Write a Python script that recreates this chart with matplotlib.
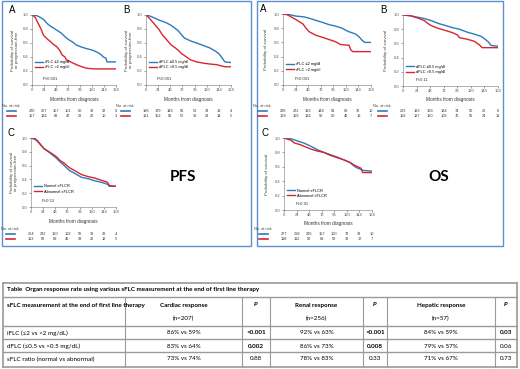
import matplotlib
matplotlib.use("Agg")
import matplotlib.pyplot as plt
import matplotlib.transforms as mtransforms
from matplotlib.patches import Rectangle
from matplotlib.lines import Line2D

W, H = 520, 369
BLUE = "#2a7bbb"
RED = "#d8262c"
BOX = "#5e8fd0"
GRID = "#9a9a9a"

MONTH_TICKS = [0, 24, 48, 72, 96, 120, 144, 168]
SURV_TICKS = [0.0, 0.2, 0.4, 0.6, 0.8, 1.0]

# ---- PFS panels ----
pfs_a_blue_t = [0, 10, 18, 24, 30, 37, 44, 50, 57, 63, 69, 75, 80, 89, 100, 109, 120, 130, 137, 143, 148, 150, 168]
pfs_a_blue_s = [1.0, 0.99, 0.96, 0.93, 0.88, 0.84, 0.81, 0.78, 0.75, 0.71, 0.67, 0.64, 0.62, 0.57, 0.54, 0.52, 0.50, 0.47, 0.44, 0.40, 0.38, 0.33, 0.33]
pfs_a_red_t = [0, 6, 11, 18, 23, 30, 37, 43, 49, 55, 60, 66, 69, 80, 89, 100, 109, 123, 168]
pfs_a_red_s = [1.0, 0.97, 0.90, 0.80, 0.71, 0.66, 0.62, 0.58, 0.55, 0.50, 0.43, 0.40, 0.36, 0.32, 0.29, 0.26, 0.24, 0.23, 0.23]

pfs_b_blue_t = [0, 10, 25, 40, 50, 63, 70, 76, 88, 100, 115, 126, 138, 145, 151, 156, 168]
pfs_b_blue_s = [1.0, 0.98, 0.93, 0.89, 0.85, 0.78, 0.72, 0.67, 0.63, 0.60, 0.56, 0.53, 0.48, 0.44, 0.38, 0.33, 0.32]
pfs_b_red_t = [0, 6, 13, 25, 32, 38, 50, 58, 63, 70, 76, 88, 100, 115, 126, 140, 150, 157, 168]
pfs_b_red_s = [1.0, 0.96, 0.90, 0.80, 0.72, 0.67, 0.57, 0.53, 0.50, 0.45, 0.42, 0.36, 0.33, 0.31, 0.30, 0.29, 0.27, 0.26, 0.26]

pfs_c_blue_t = [0, 8, 13, 25, 38, 50, 58, 63, 70, 76, 88, 100, 113, 126, 138, 151, 155, 168]
pfs_c_blue_s = [1.0, 0.98, 0.95, 0.85, 0.78, 0.71, 0.65, 0.62, 0.57, 0.53, 0.48, 0.43, 0.41, 0.38, 0.36, 0.33, 0.30, 0.30]
pfs_c_red_t = [0, 8, 13, 25, 38, 50, 58, 63, 76, 88, 100, 113, 126, 138, 151, 155, 168]
pfs_c_red_s = [1.0, 0.99, 0.96, 0.85, 0.79, 0.73, 0.67, 0.65, 0.57, 0.52, 0.47, 0.44, 0.42, 0.39, 0.36, 0.31, 0.30]

# ---- OS panels ----
os_a_blue_t = [0, 13, 25, 40, 50, 63, 76, 88, 100, 113, 120, 126, 138, 145, 151, 156, 168]
os_a_blue_s = [1.0, 0.99, 0.97, 0.96, 0.94, 0.91, 0.88, 0.85, 0.83, 0.80, 0.77, 0.75, 0.72, 0.68, 0.63, 0.60, 0.60]
os_a_red_t = [0, 8, 13, 25, 38, 44, 50, 63, 76, 88, 100, 110, 126, 129, 133, 168]
os_a_red_s = [1.0, 0.99, 0.97, 0.92, 0.86, 0.80, 0.75, 0.70, 0.67, 0.64, 0.61, 0.57, 0.56, 0.50, 0.47, 0.47]

os_b_blue_t = [0, 13, 25, 38, 50, 63, 76, 88, 100, 113, 126, 138, 145, 151, 156, 168]
os_b_blue_s = [1.0, 0.99, 0.97, 0.95, 0.92, 0.88, 0.85, 0.82, 0.80, 0.76, 0.73, 0.70, 0.66, 0.62, 0.57, 0.56]
os_b_red_t = [0, 13, 25, 38, 44, 50, 63, 76, 88, 96, 100, 113, 126, 135, 140, 168]
os_b_red_s = [1.0, 0.99, 0.96, 0.92, 0.88, 0.85, 0.81, 0.78, 0.75, 0.72, 0.68, 0.66, 0.63, 0.58, 0.54, 0.54]

os_c_blue_t = [0, 13, 25, 38, 50, 63, 76, 88, 100, 113, 126, 132, 138, 145, 151, 168]
os_c_blue_s = [1.0, 0.99, 0.96, 0.93, 0.89, 0.84, 0.80, 0.77, 0.74, 0.70, 0.66, 0.62, 0.59, 0.57, 0.55, 0.54]
os_c_red_t = [0, 13, 20, 30, 40, 50, 63, 76, 88, 100, 113, 126, 135, 147, 150, 168]
os_c_red_s = [1.0, 0.97, 0.93, 0.91, 0.88, 0.85, 0.82, 0.80, 0.76, 0.73, 0.70, 0.66, 0.62, 0.58, 0.52, 0.52]

# numbers at risk
pfs_a_risk = ([220, 207, 157, 101, 60, 39, 22, 6], [157, 124, 88, 47, 29, 22, 10, 3])
pfs_b_risk = ([196, 179, 146, 91, 53, 33, 18, 4], [181, 152, 91, 57, 36, 28, 14, 5])
pfs_c_risk = ([264, 232, 160, 102, 56, 39, 20, 4], [113, 99, 69, 46, 33, 22, 12, 5])
os_a_risk = ([228, 222, 193, 144, 91, 62, 32, 10], [168, 159, 124, 90, 60, 45, 18, 7])
os_b_risk = ([203, 193, 166, 124, 74, 50, 26, 8], [192, 187, 150, 109, 76, 56, 24, 11])
os_c_risk = ([277, 268, 226, 167, 100, 73, 33, 10], [118, 112, 90, 69, 50, 33, 17, 7])

iflc_labels = ["iFLC \u22642 mg/dl", "iFLC >2 mg/dl"]
dflc_labels = ["dFLC \u22640.5 mg/dl", "dFLC >0.5 mg/dl"]
ratio_labels = ["Normal sFLCR", "Abnormal sFLCR"]

# table
table_title = "Table  Organ response rate using various sFLC measurement at the end of first line therapy"
table_rows = ["iFLC (\u22642 vs >2 mg/dL)", "dFLC (\u22640.5 vs >0.5 mg/dL)", "sFLC ratio (normal vs abnormal)"]
cardiac = ["86% vs 59%", "83% vs 64%", "73% vs 74%"]
cardiac_p = ["<0.001", "0.002", "0.88"]
renal = ["92% vs 63%", "86% vs 73%", "78% vs 83%"]
renal_p = ["<0.001", "0.008", "0.33"]
hepatic = ["84% vs 59%", "79% vs 57%", "71% vs 67%"]
hepatic_p = ["0.03", "0.06", "0.73"]
p_bold = [[True, True, True], [True, True, False], [False, False, False]]

plt.rcParams["font.family"] = ["Liberation Sans", "DejaVu Sans"]

fig = plt.figure(figsize=(W / 100, H / 100), dpi=100)


def fx(px):
    return px / W


def fy(py):
    return 1 - py / H


def km_panel(letter, box, curves, labels, risk, pval, ylabel, rows_y, leg_top):
    x0, y0, x1, y1 = box
    ax = fig.add_axes([fx(x0), fy(y1), fx(x1 - x0), (y1 - y0) / H])
    for (t, s), col, lab in zip(curves, (BLUE, RED), labels):
        ax.plot(t, s, color=col, lw=1.0, label=lab)
    ax.set_xlim(0, 168)
    ax.set_ylim(0, 1.0)
    ax.set_xticks(MONTH_TICKS)
    ax.set_yticks(SURV_TICKS)
    ax.set_yticklabels([f"{v:.1f}" for v in SURV_TICKS])
    ax.tick_params(labelsize=3, length=1.5, width=0.4, pad=1, colors="#555555")
    for sp in ("top", "right"):
        ax.spines[sp].set_visible(False)
    for sp in ("left", "bottom"):
        ax.spines[sp].set_linewidth(0.4)
        ax.spines[sp].set_color("#777777")
    ax.patch.set_alpha(0)
    ax.legend(loc="upper left", bbox_to_anchor=(0.02, leg_top), fontsize=2.8,
              frameon=False, handlelength=2.0, handletextpad=0.5, labelspacing=0.3,
              borderaxespad=0)
    ax.text(0.13, 0.07, pval, transform=ax.transAxes, fontsize=3, color="#333333")

    fig.text(fx(x0 - 23), fy(y0 - 5), letter, fontsize=7, ha="left", va="center")
    fig.text(fx(x0 - 17), fy((y0 + y1) / 2), ylabel, fontsize=3.2, rotation=90,
             ha="center", va="center", color="#444444", linespacing=1.1)
    fig.text(fx((x0 + x1) / 2), fy(y1 + 14), "Months from diagnosis", fontsize=3.4,
             ha="center", va="center", color="#333333")

    ry0, ry1, ry2 = rows_y
    fig.text(fx(x0 - 30), fy(ry0), "No. at risk", fontsize=2.8, ha="left", va="center",
             color="#444444")
    trans = mtransforms.blended_transform_factory(ax.transData, fig.transFigure)
    for counts, col, ry in zip(risk, (BLUE, RED), (ry1, ry2)):
        fig.add_artist(Line2D([fx(x0 - 25), fx(x0 - 16)], [fy(ry), fy(ry)],
                              color=col, lw=1.2, transform=fig.transFigure))
        for m, c in zip(MONTH_TICKS, counts):
            fig.text(m, fy(ry), str(c), transform=trans, fontsize=2.8,
                     ha="center", va="center", color="#333333")
    return ax


pfs_lab = "Probability of survival\nor progression-free"
os_lab = "Probability of survival"

# boxes
fig.add_artist(Rectangle((fx(2), fy(246)), fx(249), (245) / H, fill=False,
                         edgecolor=BOX, lw=1.0, transform=fig.transFigure))
fig.add_artist(Rectangle((fx(257), fy(246)), fx(246), (245) / H, fill=False,
                         edgecolor=BOX, lw=1.0, transform=fig.transFigure))

km_panel("A", (32, 15, 116, 85), [(pfs_a_blue_t, pfs_a_blue_s), (pfs_a_red_t, pfs_a_red_s)],
         iflc_labels, pfs_a_risk, "P<0.001", pfs_lab, (106, 111, 116), 0.38)
km_panel("B", (146, 15, 231, 85), [(pfs_b_blue_t, pfs_b_blue_s), (pfs_b_red_t, pfs_b_red_s)],
         dflc_labels, pfs_b_risk, "P<0.001", pfs_lab, (106, 111, 116), 0.38)
km_panel("C", (31, 138, 116, 207), [(pfs_c_blue_t, pfs_c_blue_s), (pfs_c_red_t, pfs_c_red_s)],
         ratio_labels, pfs_c_risk, "P=0.53", pfs_lab, (229, 234, 239), 0.35)
km_panel("A", (283, 14, 371, 85), [(os_a_blue_t, os_a_blue_s), (os_a_red_t, os_a_red_s)],
         iflc_labels, os_a_risk, "P<0.001", os_lab, (106, 111, 116), 0.34)
km_panel("B", (403, 15, 498, 86), [(os_b_blue_t, os_b_blue_s), (os_b_red_t, os_b_red_s)],
         dflc_labels, os_b_risk, "P=0.11", os_lab, (106, 111, 116), 0.32)
km_panel("C", (284, 138, 372, 210), [(os_c_blue_t, os_c_blue_s), (os_c_red_t, os_c_red_s)],
         ratio_labels, os_c_risk, "P=0.91", os_lab, (229, 234, 239), 0.32)

fig.text(fx(183), fy(177), "PFS", fontsize=11, fontweight="bold", family="Lato",
         ha="center", va="center")
fig.text(fx(439), fy(177), "OS", fontsize=11, fontweight="bold", family="Lato",
         ha="center", va="center")

# ---- table ----
tx0, tx1 = 3, 517
ty_top, ty_head, ty_bot = 283, 297, 367
row_lines = [326, 339, 352]
col_lines = [125, 242, 270, 363, 387, 495]


def hline(y, x0=tx0, x1=tx1, lw=1.0):
    fig.add_artist(Line2D([fx(x0), fx(x1)], [fy(y), fy(y)], color=GRID, lw=lw,
                          transform=fig.transFigure))


def vline(x, y0, y1, lw=0.8):
    fig.add_artist(Line2D([fx(x), fx(x)], [fy(y0), fy(y1)], color=GRID, lw=lw,
                          transform=fig.transFigure))


hline(ty_top, lw=1.2)
hline(ty_head)
for y in row_lines:
    hline(y)
hline(ty_bot, lw=1.2)
vline(tx0, ty_top, ty_bot, 1.2)
vline(tx1, ty_top, ty_bot, 1.2)
for x in col_lines:
    vline(x, ty_head, ty_bot)

tfont = dict(family="Lato", fontsize=4.5, va="center")
fig.text(fx(7), fy(290), table_title, fontweight="bold", ha="left", **tfont)

centers = [(col_lines[i] + col_lines[i + 1]) / 2 for i in range(len(col_lines) - 1)]
centers.append((col_lines[-1] + tx1) / 2)
fig.text(fx(7), fy(305), "sFLC measurement at the end of first line therapy",
         fontweight="bold", ha="left", **tfont)
heads = [("Cardiac response", "(n=207)"), None, ("Renal response", "(n=256)"), None,
         ("Hepatic response", "(n=57)"), None]
for cx, h in zip(centers, heads):
    if h is None:
        fig.text(fx(cx), fy(305), "P", fontweight="bold", style="italic", ha="center", **tfont)
    else:
        fig.text(fx(cx), fy(305), h[0], fontweight="bold", ha="center", **tfont)
        fig.text(fx(cx), fy(318), h[1], ha="center", **tfont)

row_y = [333, 346, 359]
for i, ry in enumerate(row_y):
    fig.text(fx(7), fy(ry), table_rows[i], ha="left", **tfont)
    vals = [cardiac[i], cardiac_p[i], renal[i], renal_p[i], hepatic[i], hepatic_p[i]]
    for j, (cx, v) in enumerate(zip(centers, vals)):
        bold = (j % 2 == 1) and p_bold[i][j // 2]
        fig.text(fx(cx), fy(ry), v, ha="center", fontweight="bold" if bold else "normal", **tfont)

fig.savefig("out.png", dpi=100)
